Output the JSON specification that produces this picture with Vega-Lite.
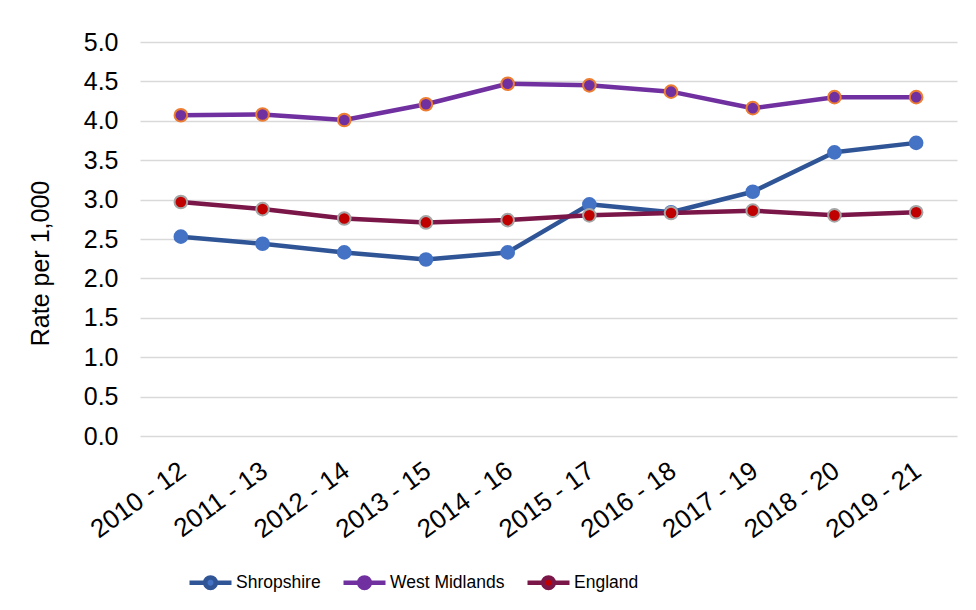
{
  "$schema": "https://vega.github.io/schema/vega-lite/v6.json",
  "width": 817,
  "height": 394,
  "autosize": {"type": "none"},
  "padding": {"left": 140, "top": 42, "right": 19, "bottom": 174},
  "background": "white",
  "config": {
    "font": "Liberation Sans",
    "view": {"stroke": null},
    "axis": {"labelColor": "black", "titleColor": "black", "labelFont": "Liberation Sans", "titleFont": "Liberation Sans"}
  },
  "data": {"values": [
    {"period": "2010 - 12", "area": "Shropshire", "value": 2.53},
    {"period": "2011 - 13", "area": "Shropshire", "value": 2.44},
    {"period": "2012 - 14", "area": "Shropshire", "value": 2.33},
    {"period": "2013 - 15", "area": "Shropshire", "value": 2.24},
    {"period": "2014 - 16", "area": "Shropshire", "value": 2.33},
    {"period": "2015 - 17", "area": "Shropshire", "value": 2.94},
    {"period": "2016 - 18", "area": "Shropshire", "value": 2.84},
    {"period": "2017 - 19", "area": "Shropshire", "value": 3.10},
    {"period": "2018 - 20", "area": "Shropshire", "value": 3.60},
    {"period": "2019 - 21", "area": "Shropshire", "value": 3.72},
    {"period": "2010 - 12", "area": "West Midlands", "value": 4.07},
    {"period": "2011 - 13", "area": "West Midlands", "value": 4.08},
    {"period": "2012 - 14", "area": "West Midlands", "value": 4.01},
    {"period": "2013 - 15", "area": "West Midlands", "value": 4.21},
    {"period": "2014 - 16", "area": "West Midlands", "value": 4.47},
    {"period": "2015 - 17", "area": "West Midlands", "value": 4.45},
    {"period": "2016 - 18", "area": "West Midlands", "value": 4.37},
    {"period": "2017 - 19", "area": "West Midlands", "value": 4.16},
    {"period": "2018 - 20", "area": "West Midlands", "value": 4.30},
    {"period": "2019 - 21", "area": "West Midlands", "value": 4.30},
    {"period": "2010 - 12", "area": "England", "value": 2.97},
    {"period": "2011 - 13", "area": "England", "value": 2.88},
    {"period": "2012 - 14", "area": "England", "value": 2.76},
    {"period": "2013 - 15", "area": "England", "value": 2.71},
    {"period": "2014 - 16", "area": "England", "value": 2.74},
    {"period": "2015 - 17", "area": "England", "value": 2.80},
    {"period": "2016 - 18", "area": "England", "value": 2.83},
    {"period": "2017 - 19", "area": "England", "value": 2.86},
    {"period": "2018 - 20", "area": "England", "value": 2.80},
    {"period": "2019 - 21", "area": "England", "value": 2.84}
  ]},
  "encoding": {
    "x": {
      "field": "period", "type": "ordinal", "sort": null,
      "scale": {"type": "point", "padding": 0.5},
      "axis": {"title": null, "labelAngle": -36, "labelFontSize": 26, "labelPadding": 21, "labelOffset": -6, "ticks": false, "domain": false, "grid": false}
    },
    "y": {
      "field": "value", "type": "quantitative",
      "scale": {"domain": [0, 5], "nice": false},
      "axis": {"title": "Rate per 1,000", "titleFontSize": 25, "titleFontWeight": "normal", "titlePadding": 30, "titleY": 221,
        "values": [0, 0.5, 1, 1.5, 2, 2.5, 3, 3.5, 4, 4.5, 5], "format": ".1f",
        "labelFontSize": 25, "labelPadding": 22, "ticks": false, "domain": false,
        "grid": true, "gridColor": "#d9d9d9", "gridWidth": 1.5}
    }
  },
  "layer": [
    {
      "mark": {"type": "line", "strokeWidth": 4.5, "strokeCap": "round", "strokeJoin": "round"},
      "encoding": {
        "color": {
          "field": "area", "type": "nominal",
          "scale": {"domain": ["Shropshire", "West Midlands", "England"], "range": ["#2F5597", "#7030A0", "#7B1648"]},
          "legend": {
            "title": null, "orient": "none", "direction": "horizontal", "legendX": 47, "legendY": 517,
            "symbolType": "M-1,0L-0.25,0M0.25,0L1,0M-0.25,0A0.25,0.25 0 1,1 0.25,0A0.25,0.25 0 1,1 -0.25,0Z",
            "symbolSize": 1764, "symbolStrokeWidth": 4.5,
            "labelFont": "Liberation Sans", "labelFontSize": 17.5, "labelColor": "black",
            "labelOffset": 2, "columnPadding": 13, "padding": 0,
            "encode": {"symbols": {"update": {"fill": {"scale": "fill", "field": "value"}, "fillOpacity": {"value": 1}}}}
          }
        }
      }
    },
    {
      "mark": {"type": "point", "filled": true, "opacity": 1, "size": 160, "strokeWidth": 2},
      "encoding": {
        "fill": {
          "field": "area", "type": "nominal",
          "scale": {"domain": ["Shropshire", "West Midlands", "England"], "range": ["#4472C4", "#7030A0", "#C00000"]},
          "legend": null
        },
        "stroke": {
          "field": "area", "type": "nominal",
          "scale": {"domain": ["Shropshire", "West Midlands", "England"], "range": ["#4472C4", "#ED7D31", "#A5A5A5"]},
          "legend": null
        }
      }
    }
  ]
}
